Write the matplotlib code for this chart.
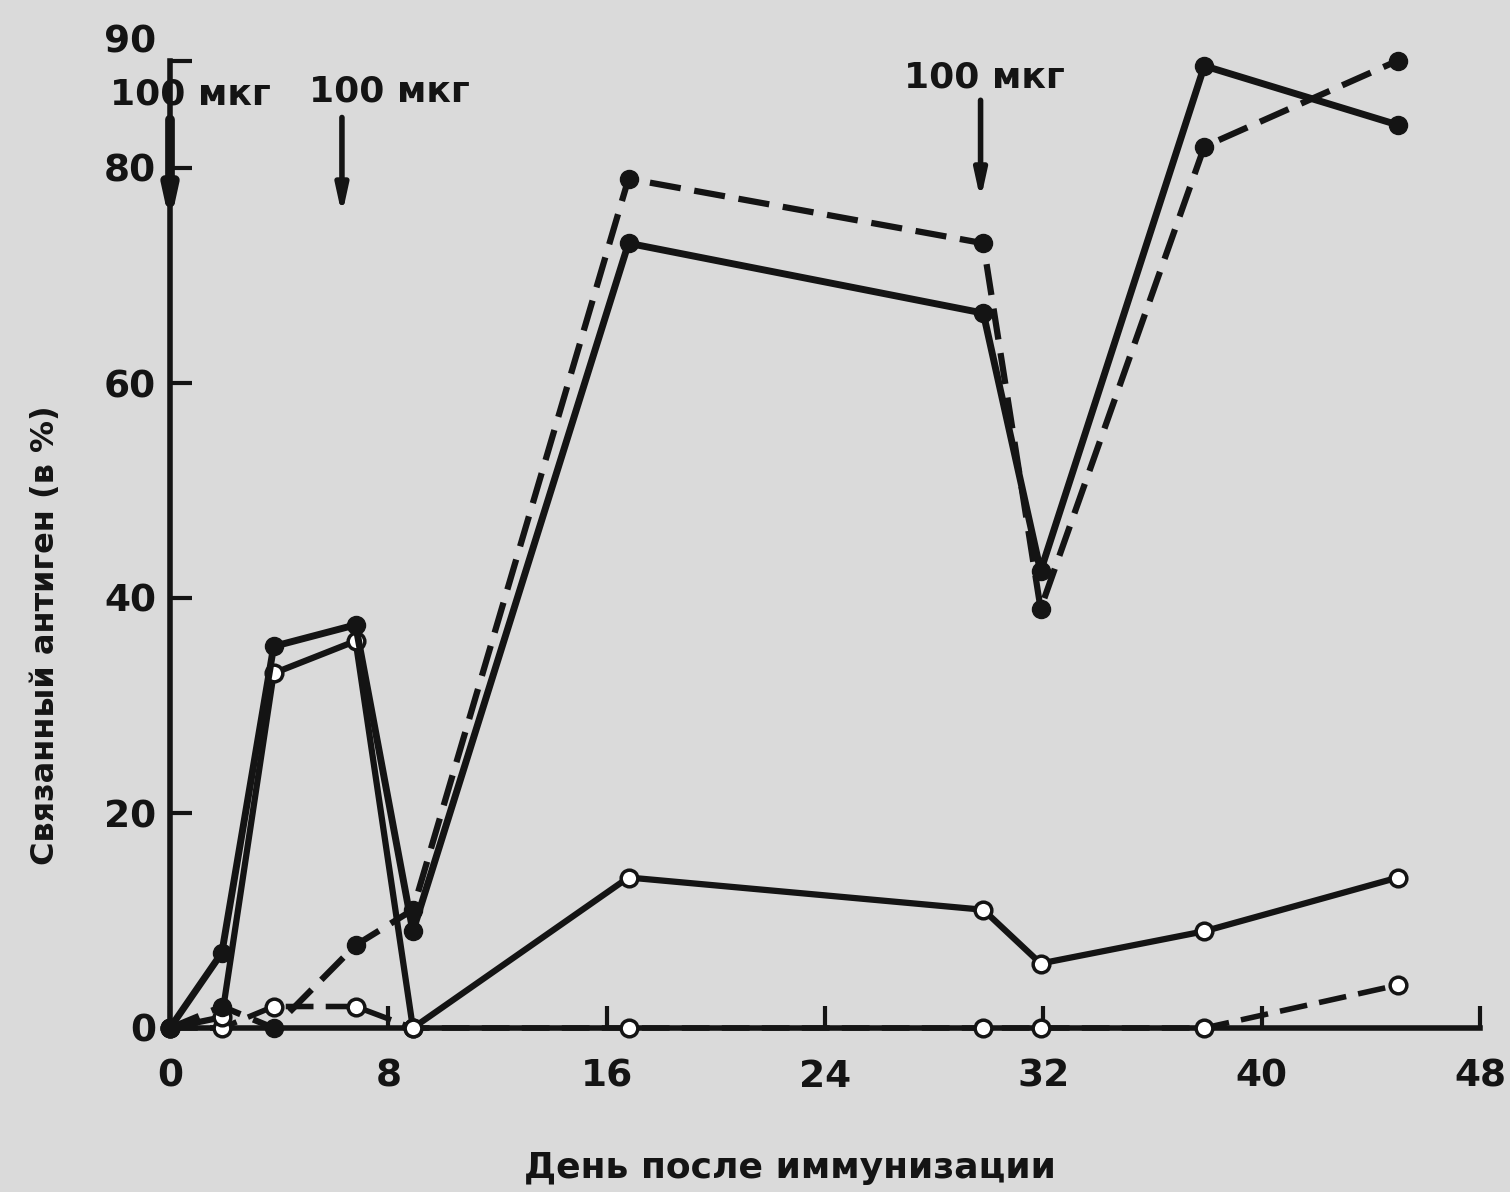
import matplotlib.pyplot as plt

# days after immunization (same sampling for every curve)
days = [0, 1.9, 3.8, 6.8, 8.9, 16.8, 29.8, 31.9, 37.9, 45]

# bound antigen, %
solid_filled = [0, 7, 35.5, 37.5, 9, 73, 66.5, 42.5, 89.5, 84]
solid_open = [0, 1, 33, 36, 0, 14, 11, 6, 9, 14]
dashed_filled = [0, 2, 0, 7.7, 11, 79, 73, 39, 82, 90]
dashed_open = [0, 0, 2, 2, 0, 0, 0, 0, 0, 4]

# antigen injections
dose_days = [0, 6.3, 29.7]
dose_text = ['100 мкг', '100 мкг', '100 мкг']
text_days = [0.75, 8.05, 29.85]
text_level = [86.8, 87.1, 88.4]
arrow_top = [84.5, 84.7, 86.3]
arrow_bottom = [74.7, 75.6, 77.0]

xticks = [0, 8, 16, 24, 32, 40, 48]
yticks = [0, 20, 40, 60, 80, 90]

ink = '#141414'
paper = '#dadada'

plt.rcParams['font.family'] = ['DejaVu Sans']

fig = plt.figure(figsize=(15.1, 11.92), dpi=100)
fig.patch.set_facecolor(paper)
ax = fig.add_axes([170/1510, 164/1192, 1310/1510, 967.5/1192])
ax.set_facecolor(paper)

dash = (5, 2.2)
ax.plot(days, dashed_open, color=ink, lw=4, dashes=dash, marker='o', ms=12,
        mfc='white', mec=ink, mew=2.5, clip_on=False, zorder=3)
ax.plot(days, solid_open, color=ink, lw=4.5, marker='o', ms=12,
        mfc='white', mec=ink, mew=2.5, clip_on=False, zorder=4)
ax.plot(days, dashed_filled, color=ink, lw=4.5, dashes=dash, marker='o', ms=13,
        mfc=ink, mec=ink, clip_on=False, zorder=5)
ax.plot(days, solid_filled, color=ink, lw=5, marker='o', ms=13,
        mfc=ink, mec=ink, clip_on=False, zorder=6)

for i in range(len(dose_days)):
    ax.text(text_days[i], text_level[i], dose_text[i], ha='center', va='center',
            fontsize=26, fontweight='bold', color=ink)
    ax.annotate('', xy=(dose_days[i], arrow_bottom[i]), xytext=(dose_days[i], arrow_top[i]),
                arrowprops=dict(arrowstyle='-|>,head_length=1.6,head_width=0.35',
                                lw=7 if i == 0 else 4, color=ink, shrinkA=0, shrinkB=0),
                annotation_clip=False, zorder=7)

ax.set_xlim(0, 48)
ax.set_ylim(0, 90)
ax.set_xticks(xticks)
ax.set_yticks(yticks)
ax.tick_params(direction='in', length=16, width=3, colors=ink, labelsize=27)
ax.tick_params(axis='x', pad=22)
ax.tick_params(axis='y', pad=10)
for lab in ax.get_xticklabels() + ax.get_yticklabels():
    lab.set_fontweight('bold')
ax.get_yticklabels()[-1].set_va('bottom')

for s in ['top', 'right']:
    ax.spines[s].set_visible(False)
for s in ['left', 'bottom']:
    ax.spines[s].set_linewidth(4)
    ax.spines[s].set_color(ink)

xl = ax.set_xlabel('День после иммунизации', fontsize=26, fontweight='bold', color=ink)
xl.set_va('center')
ax.xaxis.set_label_coords(0.473, -0.145)
yl = ax.set_ylabel('Связанный антиген (в %)', fontsize=23, fontweight='bold', color=ink)
yl.set_va('center')
ax.yaxis.set_label_coords(-0.095, 0.406)

plt.savefig('out.png', dpi=100, facecolor=paper)
